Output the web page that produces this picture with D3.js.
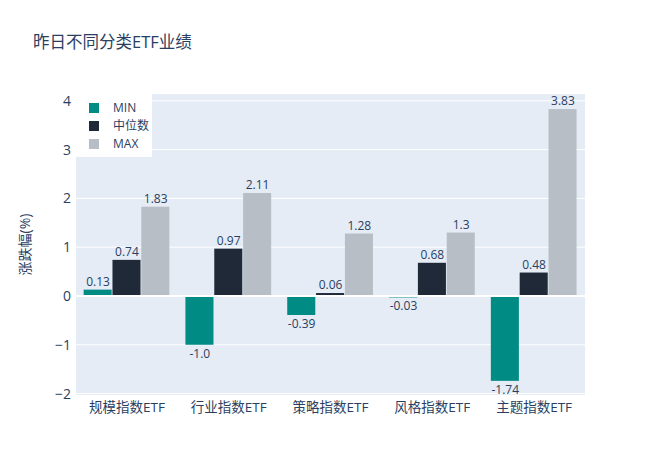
<!DOCTYPE html>
<html><head><meta charset="utf-8">
<script src="https://cdn.jsdelivr.net/npm/d3@7"></script>
<style>body{margin:0;background:#fff;}svg{display:block;font-family:"Open Sans","Noto Sans CJK SC",sans-serif;}</style>
</head><body><svg id="c" width="660" height="472"></svg>
<script>
const categories = ["规模指数ETF","行业指数ETF","策略指数ETF","风格指数ETF","主题指数ETF"];
const seriesNames = ["MIN","中位数","MAX"];
const minValues = [0.13,-1.0,-0.39,-0.03,-1.74];
const medianValues = [0.74,0.97,0.06,0.68,0.48];
const maxValues = [1.83,2.11,1.28,1.3,3.83];
const minLabels = ["0.13","-1.0","-0.39","-0.03","-1.74"];
const medianLabels = ["0.74","0.97","0.06","0.68","0.48"];
const maxLabels = ["1.83","2.11","1.28","1.3","3.83"];
const yTicks = [-2,-1,0,1,2,3,4];
const colors = ["#008b84","#1f2937","#b8bec5"];

const seriesValues = [minValues, medianValues, maxValues];
const seriesLabels = [minLabels, medianLabels, maxLabels];

const svg = d3.select("#c");
const L = 76, R = 585, T = 94, B = 395;
const x = d3.scaleBand().domain(categories).range([L, R]).paddingInner(0.15).paddingOuter(0.075);
const xs = d3.scaleBand().domain(seriesNames).range([0, x.bandwidth()]).padding(0);
const y = d3.scaleLinear().domain([-2.03, 4.14]).range([B, T]);

svg.append("text").attr("x", 33).attr("y", 48).attr("font-size", 16.5).attr("fill", "#2a3f5f").text("昨日不同分类ETF业绩");

svg.append("rect").attr("x", L).attr("y", T).attr("width", R - L).attr("height", B - T).attr("fill", "#e5ecf6");

svg.append("g").selectAll("line").data(yTicks.filter(d => d !== 0)).join("line")
  .attr("x1", L).attr("x2", R).attr("y1", d => y(d)).attr("y2", d => y(d))
  .attr("stroke", "#fff").attr("stroke-width", 1);

const data = [];
seriesNames.forEach((s, si) => categories.forEach((c, ci) => data.push({s, si, c, v: seriesValues[si][ci], t: seriesLabels[si][ci]})));

svg.append("g").selectAll("rect").data(data).join("rect")
  .attr("x", d => x(d.c) + xs(d.s))
  .attr("width", xs.bandwidth() - 0.8)
  .attr("y", d => y(Math.max(0, d.v)))
  .attr("height", d => Math.abs(y(d.v) - y(0)))
  .attr("fill", d => colors[d.si]);

svg.append("line").attr("x1", L).attr("x2", R).attr("y1", y(0)).attr("y2", y(0)).attr("stroke", "#fff").attr("stroke-width", 2);

svg.append("g").selectAll("text").data(data).join("text")
  .attr("x", d => x(d.c) + xs(d.s) + xs.bandwidth() / 2)
  .attr("y", d => d.v >= 0 ? y(d.v) - 4 : y(d.v) + 13)
  .attr("text-anchor", "middle").attr("font-size", 12).attr("fill", "#2a3f5f")
  .text(d => d.t);

const yAxis = svg.append("g").attr("transform", `translate(${L},0)`)
  .call(d3.axisLeft(y).tickValues(yTicks).tickSize(0).tickPadding(5).tickFormat(d => d < 0 ? "\u2212" + Math.abs(d) : d));
yAxis.select(".domain").remove();
yAxis.selectAll("text").attr("font-size", 14).attr("fill", "#2a3f5f").attr("font-family", "'Open Sans',sans-serif");

const xAxis = svg.append("g").attr("transform", `translate(0,${B})`)
  .call(d3.axisBottom(x).tickSize(0).tickPadding(7));
xAxis.select(".domain").remove();
xAxis.selectAll("text").attr("font-size", 13.5).attr("fill", "#2a3f5f").attr("font-family", "'Open Sans','Noto Sans CJK SC',sans-serif");

svg.append("text").attr("transform", `translate(30,${(T + B) / 2}) rotate(-90)`)
  .attr("text-anchor", "middle").attr("font-size", 14).attr("fill", "#2a3f5f").text("涨跌幅(%)");

const lg = svg.append("g");
lg.append("rect").attr("x", L).attr("y", T).attr("width", 76).attr("height", 63).attr("fill", "#fff");
seriesNames.forEach((s, i) => {
  const cy = 108 + i * 18;
  lg.append("rect").attr("x", 89).attr("y", cy - 5).attr("width", 10).attr("height", 10).attr("fill", colors[i]);
  lg.append("text").attr("x", 113).attr("y", cy + 4).attr("font-size", 12).attr("fill", "#2a3f5f").text(s);
});
</script></body></html>
